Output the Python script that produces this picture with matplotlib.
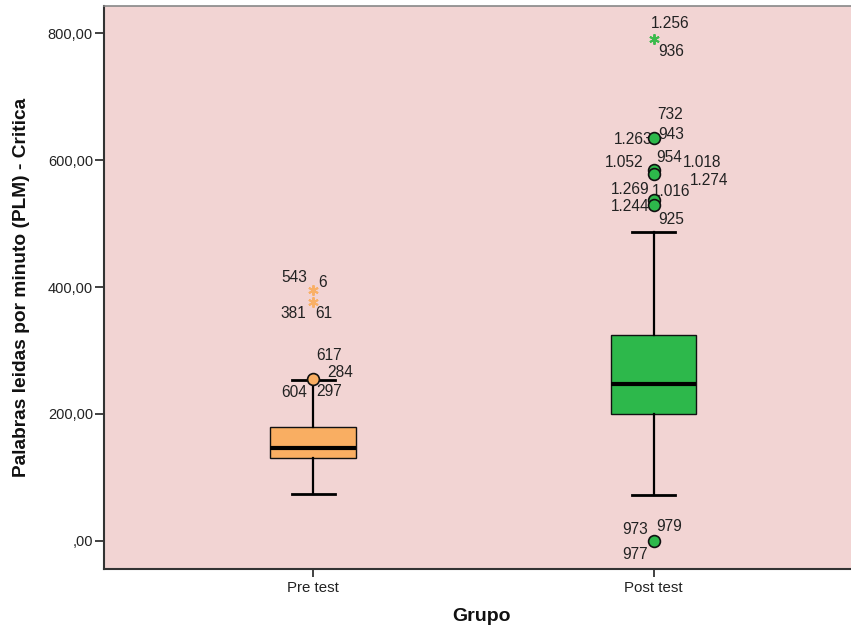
import matplotlib
matplotlib.use("Agg")
import matplotlib.pyplot as plt
from matplotlib.ticker import FuncFormatter

plt.rcParams['font.family'] = ['Liberation Sans', 'DejaVu Sans']

# ---- data ----
groups = ["Pre test", "Post test"]
q1 = [130.4, 200.3]
median = [146.2, 247.6]
q3 = [179.3, 324.4]
whisker_low = [73.7, 72.0]
whisker_high = [253.5, 486.6]

# outliers (circles) and extremes (stars) per group
pre_outliers = [254.6]
pre_outlier_ids = [["617", "284", "604", "297"]]
pre_extremes = [395.0, 377.0]
pre_extreme_ids = [["543", "6"], ["381", "61"]]

post_outliers = [634.7, 585.2, 577.8, 537.0, 529.1, 0.0]
post_outlier_ids = [["732", "943", "1.263"],
                    ["954", "1.052", "1.018"],
                    ["1.274", "1.016", "1.269"],
                    [],
                    ["1.244", "925"],
                    ["973", "979", "977"]]
post_extremes = [790.8]
post_extreme_ids = [["1.256", "936"]]

yticks = [0, 200, 400, 600, 800]

# ---- layout of id labels (pixel offsets dx, dy from marker) ----
pre_outlier_off = [[(15.8, 24), (27.3, 6.7), (-19.2, -13.3), (15.8, -12.7)]]
pre_extreme_off = [[(-19, 13), (10, 7.7)], [(-19.7, -12.3), (10.8, -12.3)]]
post_outlier_off = [[(17, 23.3), (17.5, 4), (-20, -1)],
                    [(15.7, 11.7), (-29.7, 7.3), (49, 7.3)],
                    [(56, -6), (17.3, -17), (-23.5, -15.3)],
                    [],
                    [(-23.3, -1.7), (17.5, -14.3)],
                    [(-18, 11.4), (15.7, 14.7), (-18, -13.3)]]
post_extreme_off = [[(16.7, 16), (17.5, -12.4)]]

box_colors = ["#F9AE62", "#2DB84B"]
star_colors = ["#F9B066", "#3CBA4C"]
bg = "#F2D4D3"

fig = plt.figure(figsize=(8.51, 6.31), dpi=100)
ax = fig.add_axes([104/851, (631-569)/631, 747/851, 563.5/631])
ax.set_facecolor(bg)

positions = [1, 2]
stats = []
for i, g in enumerate(groups):
    stats.append(dict(label=g, q1=q1[i], med=median[i], q3=q3[i],
                      whislo=whisker_low[i], whishi=whisker_high[i], fliers=[]))

bp = ax.bxp(stats, positions=positions, widths=0.251, showfliers=False,
            patch_artist=True,
            boxprops=dict(linewidth=1.0, edgecolor="#111111"),
            medianprops=dict(color="black", linewidth=3.0),
            whiskerprops=dict(color="black", linewidth=1.6),
            capprops=dict(color="black", linewidth=2.0),
            capwidths=0.126)
for patch, c in zip(bp['boxes'], box_colors):
    patch.set_facecolor(c)
    patch.set_zorder(2)

px2pt = 0.72
txt_kw = dict(fontsize=11.2, color="#222222", ha="center", va="center",
              textcoords="offset points")

def draw_group(x, outs, out_ids, out_off, exts, ext_ids, ext_off, bc, sc):
    for v, ids, offs in zip(outs, out_ids, out_off):
        ax.plot([x], [v], marker="o", markersize=8.5, markerfacecolor=bc,
                markeredgecolor="#111111", markeredgewidth=1.2, zorder=4)
        for t, (dx, dy) in zip(ids, offs):
            ax.annotate(t, (x, v), xytext=(dx*px2pt, dy*px2pt), **txt_kw)
    for v, ids, offs in zip(exts, ext_ids, ext_off):
        ax.plot([x], [v], marker=(6, 2, 0), markersize=7.5, color=sc,
                markeredgewidth=1.4, zorder=4, linestyle="none")
        for t, (dx, dy) in zip(ids, offs):
            ax.annotate(t, (x, v), xytext=(dx*px2pt, dy*px2pt), **txt_kw)

draw_group(1, pre_outliers, pre_outlier_ids, pre_outlier_off,
           pre_extremes, pre_extreme_ids, pre_extreme_off,
           box_colors[0], star_colors[0])
draw_group(2, post_outliers, post_outlier_ids, post_outlier_off,
           post_extremes, post_extreme_ids, post_extreme_off,
           box_colors[1], star_colors[1])

ax.set_xlim(0.386, 2.58)
ax.set_ylim(-44.6, 844)
ax.set_yticks(yticks)

def fmt(v, pos):
    s = f"{v:.2f}".replace(".", ",")
    if s.startswith("0,"):
        s = s[1:]
    return s
ax.yaxis.set_major_formatter(FuncFormatter(fmt))
ax.set_xticks(positions)
ax.set_xticklabels(groups)

ax.tick_params(axis="y", length=6.5, width=1.3, color="#333333", pad=1.5,
               labelsize=10.5, labelcolor="#222222")
ax.tick_params(axis="x", length=6, width=1.3, color="#333333", pad=3,
               labelsize=10.8, labelcolor="#222222")

for s in ["left", "bottom"]:
    ax.spines[s].set_color("#333333")
    ax.spines[s].set_linewidth(1.5)
ax.spines["top"].set_color("#888888")
ax.spines["top"].set_linewidth(1.2)
ax.spines["right"].set_visible(False)

ax.set_xlabel("Grupo", fontsize=14, fontweight="bold", color="#111111")
ax.set_ylabel("Palabras leidas por minuto (PLM) - Critica", fontsize=13.8,
              fontweight="bold", color="#111111")
ax.xaxis.set_label_coords(0.506, -0.085)
ax.xaxis.label.set_va("center")
ax.yaxis.set_label_coords(-0.1098, 0.5)
ax.yaxis.label.set_va("center")

fig.savefig("out.png", dpi=100)
